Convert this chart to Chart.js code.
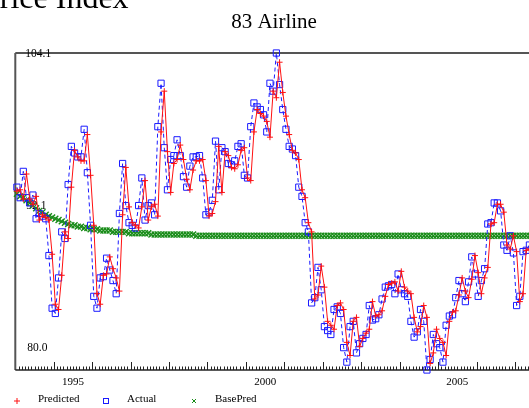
<!DOCTYPE html>
<html>
<head>
<meta charset="utf-8">
<script src="https://cdn.jsdelivr.net/npm/chart.js@4/dist/chart.umd.min.js"></script>
<style>
  html, body { margin: 0; padding: 0; background: #fff; overflow: hidden; }
  #wrap { width: 529px; height: 408px; overflow: hidden; position: relative; }
  #chart { position: absolute; left: 0; top: 0; }
</style>
</head>
<body>
<div id="wrap"><canvas id="chart" width="560" height="408"></canvas></div>
<script>
const pageTitle = "Price Index";
const chartTitle = "83 Airline";
const startYear = 1994;
const yearLabels = [1995, 2000, 2005];
const valueLabels = ["104.1", "92.1", "80.0"];
const yMin = 80.0;
const yMax = 104.1;

// monthly index, Jan 1994 onwards
const actual = [
    93.9, 93.1, 95.1, 93.1, 92.7, 93.3, 91.5, 91.9, 91.7, 91.5, 88.7, 84.7,
    84.3, 87.0, 90.5, 90.0, 94.1, 97.0, 96.5, 96.2, 96.2, 98.3, 95.0, 91.0,
    85.6, 84.7, 87.0, 87.1, 88.5, 87.6, 86.8, 85.8, 91.9, 95.7, 92.5, 91.2,
    91.0, 90.8, 92.5, 94.6, 91.4, 92.5, 92.7, 91.8, 98.5, 101.8, 96.9, 93.7,
    96.0, 96.3, 97.5, 96.3, 94.7, 93.9, 95.5, 96.2, 96.2, 96.3, 94.6, 91.8,
    92.0, 92.9, 97.4, 93.7, 96.9, 96.6, 95.7, 95.6, 95.9, 97.0, 97.2, 94.8,
    94.6, 98.5, 100.3, 100.0, 99.8, 99.4, 98.1, 101.8, 101.2, 104.1, 101.7, 99.8,
    98.3, 97.0, 96.8, 96.3, 93.9, 93.2, 91.2, 90.5, 85.1, 85.5, 87.8, 86.1,
    83.3, 83.0, 82.7, 84.6, 84.8, 84.3, 81.7, 80.6, 83.3, 83.7, 81.3, 82.0,
    82.4, 82.7, 84.9, 83.8, 83.9, 84.2, 85.4, 86.3, 86.4, 86.5, 85.8, 87.3,
    86.1, 85.8, 85.6, 83.7, 82.5, 82.9, 84.6, 83.7, 80.0, 80.8, 82.7, 82.0,
    81.7, 80.6, 83.4, 84.1, 84.2, 85.5, 86.8, 85.8, 85.2, 86.7, 88.6, 87.3,
    85.6, 86.8, 87.7, 91.1, 91.2, 92.7, 92.7, 92.1, 89.5, 89.1, 90.2, 88.9,
    84.9, 85.6, 89.0, 89.1, 89.5, 88.8
];

const predicted = [
    93.6, 93.7, 93.0, 94.9, 93.0, 92.6, 93.2, 91.4, 91.8, 91.6, 91.4, 88.8,
    85.0, 84.6, 87.2, 90.5, 90.0, 93.9, 96.7, 96.2, 95.9, 95.9, 97.9, 94.8,
    91.0, 85.8, 85.0, 87.2, 87.3, 88.6, 87.7, 87.0, 86.0, 91.8, 95.4, 92.4,
    91.2, 91.0, 90.8, 92.4, 94.4, 91.4, 92.4, 92.6, 91.7, 98.1, 101.2, 96.6,
    93.5, 95.7, 96.0, 97.1, 96.0, 94.5, 93.7, 95.2, 95.9, 95.9, 96.0, 94.4,
    91.7, 91.9, 92.8, 97.0, 93.5, 96.6, 96.3, 95.4, 95.3, 95.6, 96.7, 96.9,
    94.6, 94.4, 98.1, 99.8, 99.5, 99.3, 98.9, 97.7, 101.2, 100.7, 103.4, 101.1,
    99.3, 97.9, 96.7, 96.5, 96.0, 93.7, 93.1, 91.2, 90.5, 85.4, 85.7, 87.9,
    86.3, 83.7, 83.4, 83.1, 84.9, 85.1, 84.6, 82.1, 81.1, 83.7, 84.0, 81.8,
    82.4, 82.8, 83.1, 85.2, 84.1, 84.2, 84.5, 85.6, 86.5, 86.6, 86.7, 86.0,
    87.5, 86.3, 86.0, 85.8, 84.0, 82.9, 83.3, 84.9, 84.0, 80.5, 81.3, 83.1,
    82.4, 82.1, 81.1, 83.7, 84.4, 84.5, 85.7, 87.0, 86.0, 85.5, 86.9, 88.7,
    87.4, 85.8, 87.0, 87.8, 91.1, 91.2, 92.6, 92.6, 92.0, 89.5, 89.2, 90.2,
    89.0, 85.2, 85.8, 89.1, 89.2, 89.5
];

const basePred = [
    93.4, 93.2, 93.1, 92.9, 92.7, 92.5, 92.3, 92.1, 92.0, 91.8, 91.7, 91.6,
    91.5, 91.4, 91.3, 91.2, 91.1, 91.0, 91.0, 90.9, 90.9, 90.8, 90.8, 90.7,
    90.7, 90.7, 90.6, 90.6, 90.6, 90.6, 90.5, 90.5, 90.5, 90.5, 90.5, 90.4,
    90.4, 90.4, 90.4, 90.4, 90.4, 90.4, 90.3, 90.3, 90.3, 90.3, 90.3, 90.3,
    90.3, 90.3, 90.3, 90.3, 90.3, 90.3, 90.3, 90.3, 90.2, 90.2, 90.2, 90.2,
    90.2, 90.2, 90.2, 90.2, 90.2, 90.2, 90.2, 90.2, 90.2, 90.2, 90.2, 90.2,
    90.2, 90.2, 90.2, 90.2, 90.2, 90.2, 90.2, 90.2, 90.2, 90.2, 90.2, 90.2,
    90.2, 90.2, 90.2, 90.2, 90.2, 90.2, 90.2, 90.2, 90.2, 90.2, 90.2, 90.2,
    90.2, 90.2, 90.2, 90.2, 90.2, 90.2, 90.2, 90.2, 90.2, 90.2, 90.2, 90.2,
    90.2, 90.2, 90.2, 90.2, 90.2, 90.2, 90.2, 90.2, 90.2, 90.2, 90.2, 90.2,
    90.2, 90.2, 90.2, 90.2, 90.2, 90.2, 90.2, 90.2, 90.2, 90.2, 90.2, 90.2,
    90.2, 90.2, 90.2, 90.2, 90.2, 90.2, 90.2, 90.2, 90.2, 90.2, 90.2, 90.2,
    90.2, 90.2, 90.2, 90.2, 90.2, 90.2, 90.2, 90.2, 90.2, 90.2, 90.2, 90.2,
    90.2, 90.2, 90.2, 90.2, 90.2, 90.2
];

const RED = "#ff1010";
const BLUE = "#1a1aff";
const GREEN = "rgb(25,140,25)";
const SERIF = '"Liberation Serif", "Times New Roman", serif';

// each value sits in the middle of its month
function toPoints(values) {
    return values.map((v, i) => ({ x: startYear + (i + 0.5) / 12, y: v }));
}

const frame = {
    id: "frame",
    beforeDatasetsDraw(chart) {
        const { ctx, chartArea: a, scales: { x, y } } = chart;
        ctx.save();

        // top rule across the whole width, left rule, bottom axis
        ctx.strokeStyle = "#555";
        ctx.lineWidth = 2;
        ctx.beginPath();
        ctx.moveTo(a.left, a.top);
        ctx.lineTo(chart.width, a.top);
        ctx.moveTo(a.left, a.top);
        ctx.lineTo(a.left, a.bottom);
        ctx.stroke();

        ctx.strokeStyle = "#222";
        ctx.lineWidth = 1.5;
        ctx.beginPath();
        ctx.moveTo(a.left, a.bottom);
        ctx.lineTo(chart.width, a.bottom);
        ctx.stroke();

        // month ticks, longer at each new year, pointing up
        ctx.lineWidth = 1;
        ctx.beginPath();
        for (let yr = startYear; yr < x.max; yr++) {
            for (let k = 0; k < 12; k++) {
                const v = yr + k / 12;
                if (v <= x.min || v > x.max) continue;
                const px = Math.round(x.getPixelForValue(v)) + 0.5;
                const len = k === 0 ? 8 : 3.5;
                ctx.moveTo(px, a.bottom);
                ctx.lineTo(px, a.bottom - len);
            }
        }
        ctx.stroke();

        // value labels inside the frame
        ctx.fillStyle = "#000";
        ctx.font = "11.5px " + SERIF;
        ctx.textAlign = "left";
        ctx.textBaseline = "middle";
        ctx.fillText(valueLabels[0], a.left + 10, y.getPixelForValue(yMax) + 1);
        ctx.fillText(valueLabels[1], a.left + 11, y.getPixelForValue(92.5));
        ctx.fillText(valueLabels[2], a.left + 12, y.getPixelForValue(yMin) - 22);
        ctx.restore();
    },
    afterDraw(chart) {
        const { ctx } = chart;
        ctx.save();
        ctx.fillStyle = "#000";
        ctx.textBaseline = "alphabetic";

        ctx.font = "32px " + SERIF;
        ctx.textAlign = "left";
        ctx.fillText(pageTitle, -18, 8);

        ctx.font = "21px " + SERIF;
        ctx.textAlign = "center";
        ctx.fillText(chartTitle, 274, 28);

        // legend row
        const ly = 401;
        ctx.lineWidth = 1;
        ctx.strokeStyle = RED;
        ctx.beginPath();
        ctx.moveTo(14, ly); ctx.lineTo(20, ly);
        ctx.moveTo(17, ly - 3); ctx.lineTo(17, ly + 3);
        ctx.stroke();

        ctx.strokeStyle = BLUE;
        ctx.strokeRect(103.5, ly - 2.5, 5, 5);

        ctx.strokeStyle = GREEN;
        ctx.beginPath();
        ctx.moveTo(192, ly - 2); ctx.lineTo(196, ly + 2);
        ctx.moveTo(196, ly - 2); ctx.lineTo(192, ly + 2);
        ctx.stroke();

        ctx.font = "11px " + SERIF;
        ctx.textAlign = "left";
        ctx.textBaseline = "middle";
        ctx.fillText("Predicted", 38, 399);
        ctx.fillText("Actual", 127, 399);
        ctx.fillText("BasePred", 215, 399);
        ctx.restore();
    }
};

const ctx = document.getElementById("chart").getContext("2d");

new Chart(ctx, {
    type: "line",
    data: {
        datasets: [
            {
                label: "Predicted",
                data: toPoints(predicted),
                borderColor: RED,
                borderWidth: 1,
                pointStyle: "cross",
                pointRadius: 3,
                pointBorderColor: RED,
                pointBorderWidth: 1,
                tension: 0,
                clip: false,
                order: 1
            },
            {
                label: "Actual",
                data: toPoints(actual),
                borderColor: BLUE,
                borderWidth: 1,
                borderDash: [4, 3],
                pointStyle: "rect",
                pointRadius: 4.4,
                pointBackgroundColor: "rgba(0,0,0,0)",
                pointBorderColor: BLUE,
                pointBorderWidth: 1,
                tension: 0,
                clip: false,
                order: 2
            },
            {
                label: "BasePred",
                data: toPoints(basePred),
                showLine: false,
                pointStyle: "crossRot",
                pointRadius: 4.2,
                pointBorderColor: GREEN,
                pointBorderWidth: 1.4,
                clip: false,
                order: 3
            }
        ]
    },
    options: {
        responsive: false,
        animation: false,
        events: [],
        layout: { padding: { left: 15.3, right: 10, top: 53, bottom: 18 } },
        plugins: {
            legend: { display: false },
            tooltip: { enabled: false },
            title: { display: false }
        },
        scales: {
            x: {
                type: "linear",
                min: startYear,
                max: 2007.91,
                grid: { display: false, drawTicks: false },
                border: { display: false },
                afterBuildTicks: s => { s.ticks = yearLabels.map(v => ({ value: v + 0.5 })); },
                afterFit: s => { s.height = 20; },
                ticks: {
                    padding: 6,
                    color: "#000",
                    autoSkip: false,
                    maxRotation: 0,
                    font: { family: SERIF, size: 11 },
                    callback: v => String(Math.floor(v))
                }
            },
            y: { min: yMin, max: yMax, display: false }
        }
    },
    plugins: [frame]
});
</script>
</body>
</html>
